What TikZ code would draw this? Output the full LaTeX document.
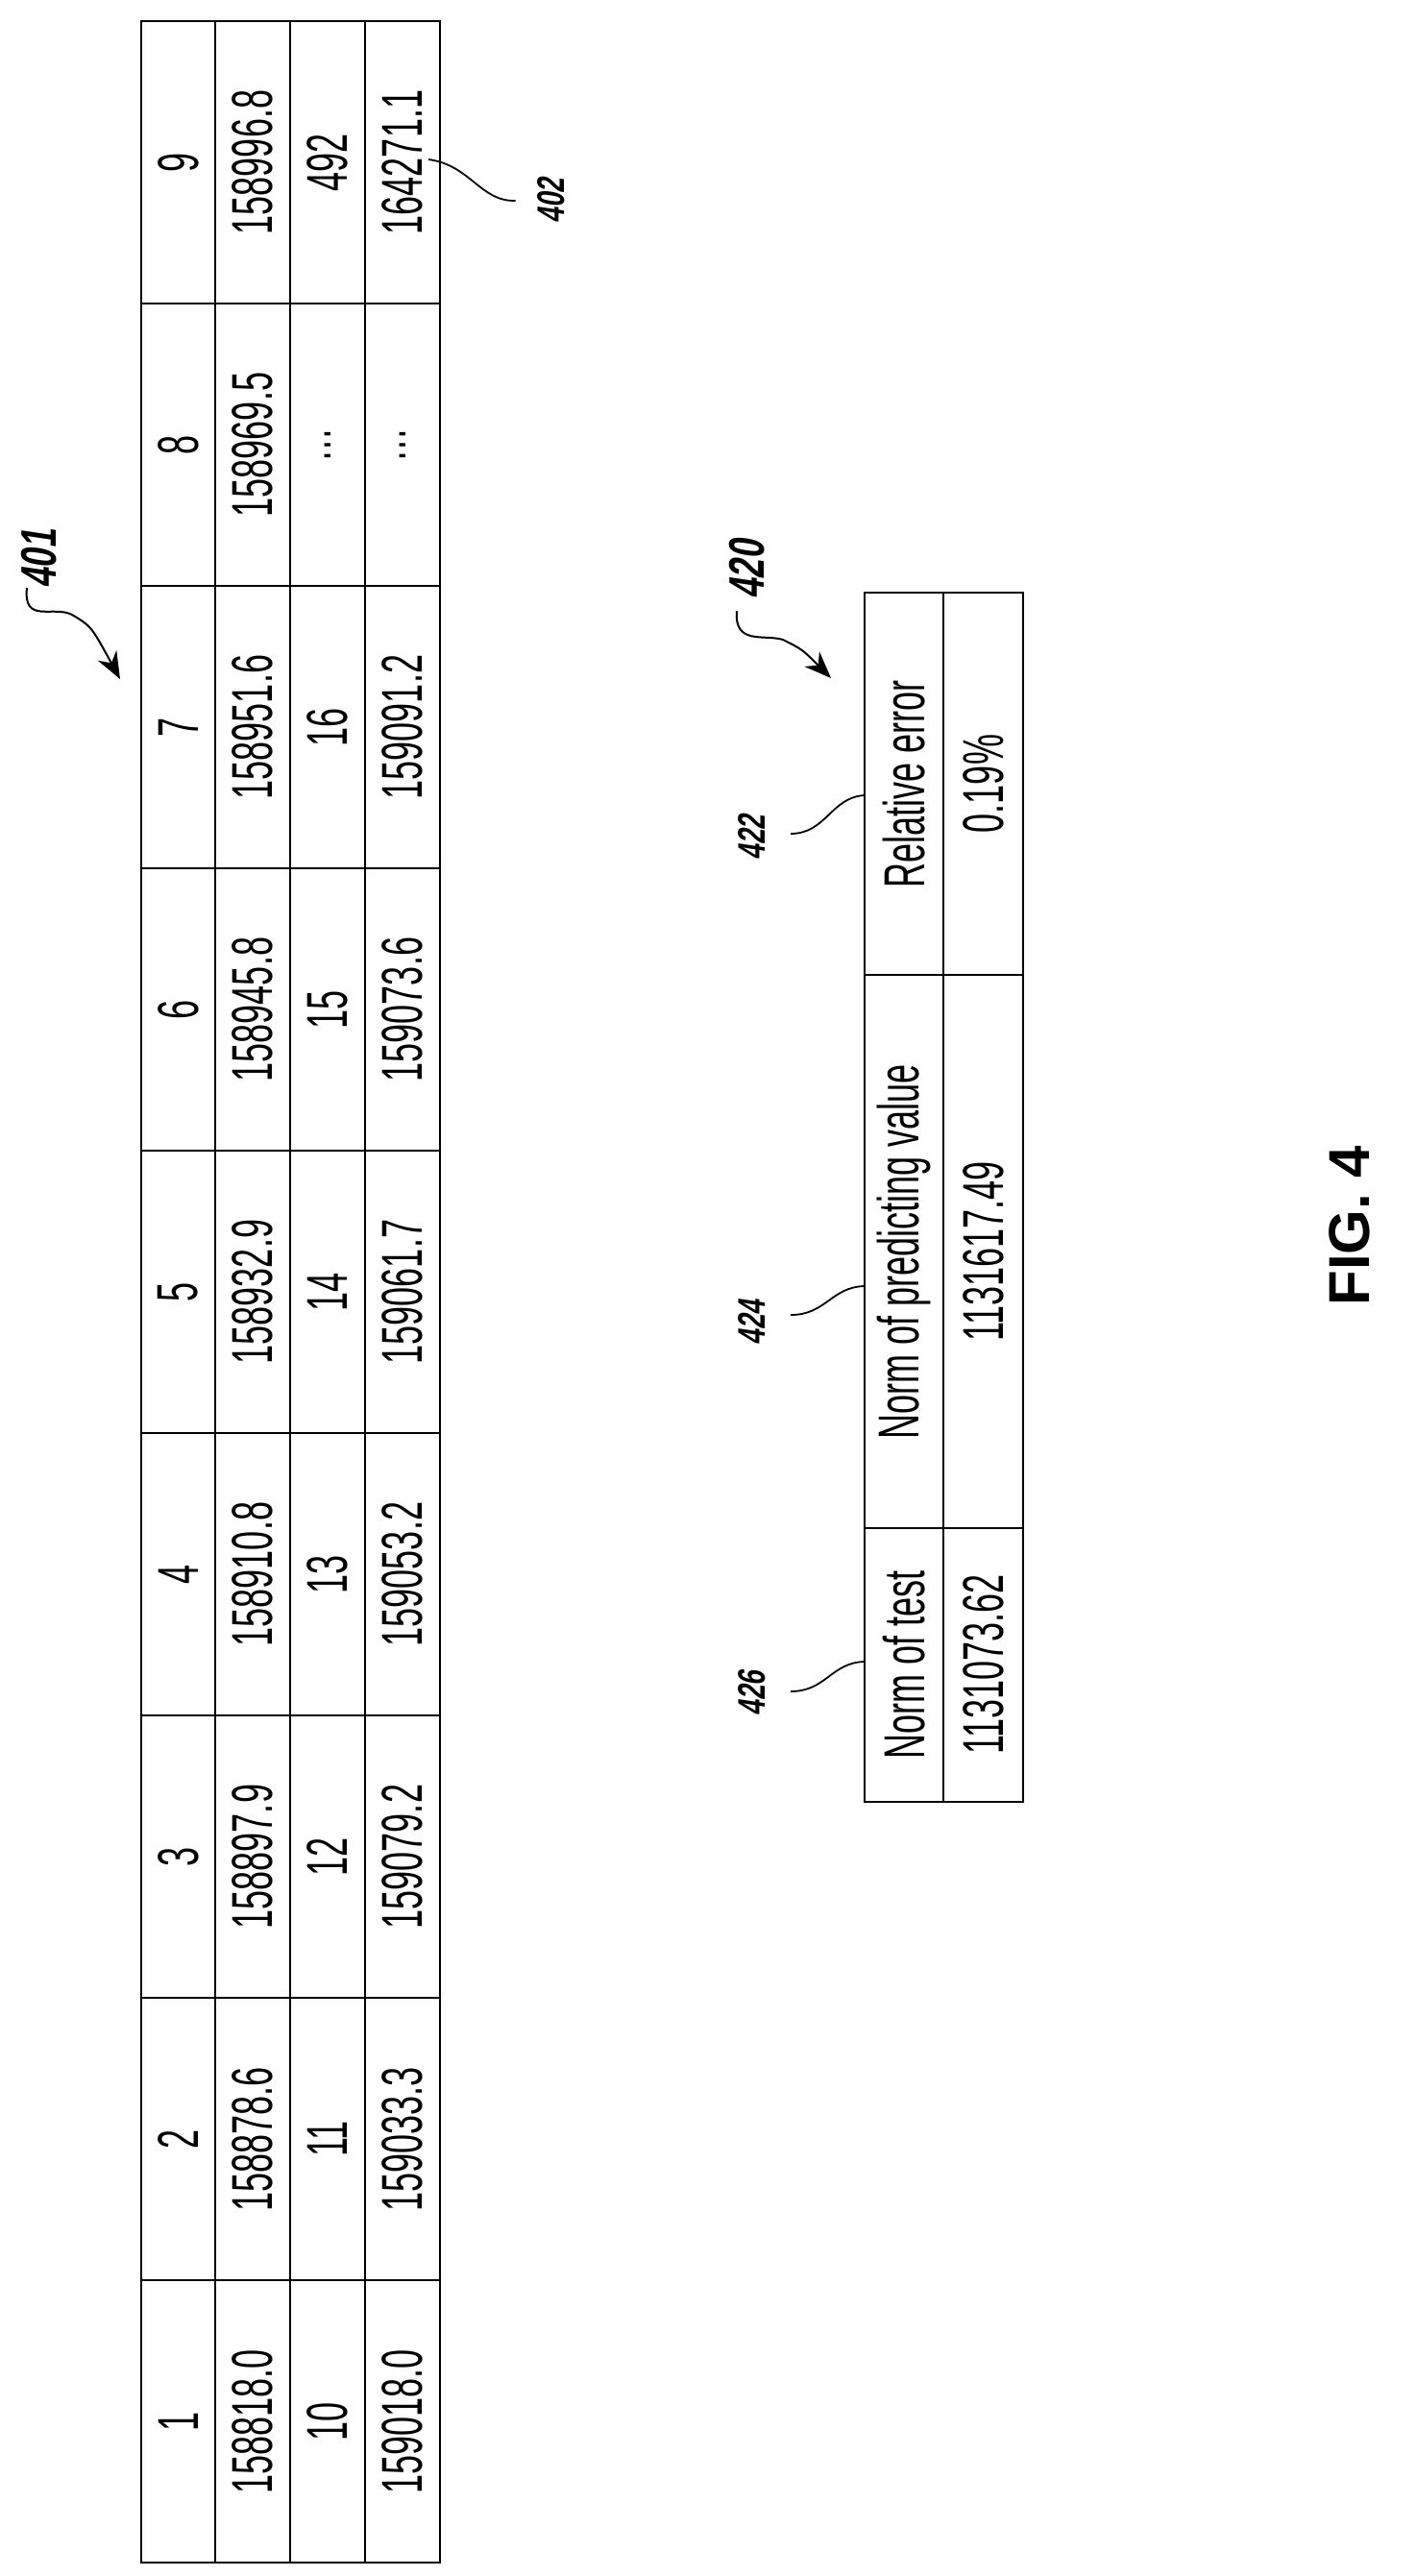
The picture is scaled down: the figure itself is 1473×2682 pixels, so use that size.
\documentclass[tikz,border=0pt]{standalone}
\usepackage{fontspec}
\setmainfont{Liberation Sans}
\newfontfamily\narrowf[FakeStretch=0.6]{Liberation Sans}
\newfontfamily\lblf[FakeStretch=0.7,FakeSlant=0.15]{Liberation Sans}
\usetikzlibrary{arrows.meta}
\begin{document}
\begin{tikzpicture}[x=0.5pt,y=-0.5pt,
  cell/.style={rotate=90,font=\narrowf\fontsize{30}{30}\selectfont,inner sep=0pt},
  grid/.style={line width=1.2pt},
  lbl/.style={rotate=90,font=\lblf\bfseries\fontsize{20}{20}\selectfont,inner sep=0pt},
  biglbl/.style={rotate=90,font=\lblf\bfseries\fontsize{26}{26}\selectfont,inner sep=0pt},
  lead/.style={line width=0.9pt},
  ptr/.style={line width=1pt,-{Stealth[length=14pt,width=11pt]}}]
\useasboundingbox (0,0) rectangle (1473,2682);
% big table
\draw[grid] (147,22) rectangle (458,2668);
\foreach \x in {224,302,380} \draw[grid] (\x,22) -- (\x,2668);
\foreach \k in {1,...,8} \draw[grid] (147,22+294*\k) -- (458,22+294*\k);
\foreach \i/\a/\b/\c in {1/158818.0/10/159018.0, 2/158878.6/11/159033.3, 3/158897.9/12/159079.2, 4/158910.8/13/159053.2, 5/158932.9/14/159061.7, 6/158945.8/15/159073.6, 7/158951.6/16/159091.2, 8/158969.5/\ldots/\ldots, 9/158996.8/492/164271.1}{
  \node[cell] (h\i) at (185.5,{22+294*(9-\i)+147}) {\i};
  \node[cell] (a\i) at (263,{22+294*(9-\i)+147}) {\a};
  \node[cell] (b\i) at (341,{22+294*(9-\i)+147}) {\b};
  \node[cell] (c\i) at (419,{22+294*(9-\i)+147}) {\c};
}
% small table
\draw[grid] (900,617) rectangle (1065,1876);
\draw[grid] (982,617) -- (982,1876);
\draw[grid] (900,1015) -- (1065,1015);
\draw[grid] (900,1591) -- (1065,1591);
\node[cell] (re) at (941,816) {Relative error};
\node[cell] (rv) at (1023.5,816) {0.19\%};
\node[cell] (np) at (941,1303) {Norm of predicting value};
\node[cell] (nv) at (1023.5,1303) {1131617.49};
\node[cell] (nt) at (941,1733) {Norm of test};
\node[cell] (tv) at (1023.5,1733) {1131073.62};
% reference labels
\node[biglbl] (l401) at (41,582) {401};
\coordinate (s401) at (28,612);
\coordinate (t401) at (125,707);
\draw[ptr] (s401) .. controls (24,650) and (55,630) .. (75,640) .. controls (95,652) .. (t401);
\node[biglbl] (l420) at (778,593) {420};
\coordinate (s420) at (767,636);
\coordinate (t420) at (865,706);
\draw[ptr] (s420) .. controls (764,672) and (795,660) .. (815,666) .. controls (835,676) .. (t420);
\node[lbl] (l402) at (574,209) {402};
\coordinate (e402) at (446,166);
\draw[lead] (l402.south) ++(-52,0) .. controls (500,210) and (490,172) .. (e402);
\node[lbl] (l422) at (783,872) {422};
\coordinate (e422) at (900,828);
\draw[lead] (823,868) .. controls (860,868) and (865,830) .. (e422);
\node[lbl] (l424) at (783,1377) {424};
\coordinate (e424) at (900,1339);
\draw[lead] (823,1369) .. controls (860,1369) and (865,1340) .. (e424);
\node[lbl] (l426) at (783,1763) {426};
\coordinate (e426) at (900,1730);
\draw[lead] (823,1761) .. controls (860,1761) and (865,1731) .. (e426);
\node[rotate=90,font=\bfseries\fontsize{30}{30}\selectfont] (fig) at (1405,1276) {FIG. 4};
\end{tikzpicture}
\end{document}
